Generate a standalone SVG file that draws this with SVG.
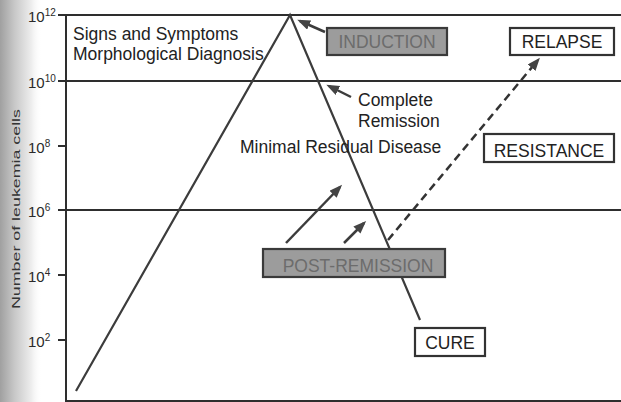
<svg xmlns="http://www.w3.org/2000/svg" width="621" height="402" viewBox="0 0 621 402">
<style>
  .t { font-family: "Liberation Sans", Arial, sans-serif; font-size: 17.5px; fill: #222; }
  .tick { font-family: "Liberation Sans", Arial, sans-serif; font-size: 15px; fill: #2a2a2a; }
  .sup { font-size: 10px; }
  .axis { stroke: #2e2e2e; stroke-width: 2; fill: none; }
  .grid { stroke: #2e2e2e; stroke-width: 2; fill: none; }
  .curve { stroke: #3c3c3c; stroke-width: 2.2; fill: none; }
  .arr { stroke: #3c3c3c; stroke-width: 2.5; fill: none; marker-end: url(#ah); }
  .dash { stroke: #333; stroke-width: 2.5; fill: none; stroke-dasharray: 8 5; marker-end: url(#ah); }
  .box { fill: #fff; stroke: #333; stroke-width: 2.2; }
  .gbox { fill: #9c9c9c; stroke: #3a3a3a; stroke-width: 2.2; }
  .gtext { fill: #6c6c6c; }
</style>
<defs>
  <marker id="ah" markerUnits="userSpaceOnUse" markerWidth="14" markerHeight="12" refX="10" refY="5" orient="auto">
    <path d="M0,0 L13,5 L0,10 z" fill="#444"/>
  </marker>
  <linearGradient id="spine" x1="0" y1="0" x2="1" y2="0">
    <stop offset="0" stop-color="#a0a0a0"/>
    <stop offset="0.35" stop-color="#c8c8c8"/>
    <stop offset="0.75" stop-color="#eeeeee"/>
    <stop offset="1" stop-color="#ffffff" stop-opacity="0"/>
  </linearGradient>
</defs>
<rect x="0" y="0" width="621" height="402" fill="#fff"/>
<rect x="0" y="0" width="42" height="402" fill="url(#spine)"/>

<g id="axes">
  <line class="axis" x1="66" y1="15" x2="66" y2="402"/>
  <line class="axis" x1="66" y1="401" x2="621" y2="401"/>
  <line class="grid" x1="58" y1="15" x2="621" y2="15"/>
  <line class="grid" x1="58" y1="81" x2="621" y2="81"/>
  <line class="grid" x1="58" y1="210" x2="621" y2="210"/>
  <line class="axis" x1="58" y1="146" x2="66" y2="146"/>
  <line class="axis" x1="58" y1="275" x2="66" y2="275"/>
  <line class="axis" x1="58" y1="340" x2="66" y2="340"/>
  <text class="tick" x="28" y="22">10<tspan class="sup" dy="-6">12</tspan></text>
  <text class="tick" x="28" y="88">10<tspan class="sup" dy="-6">10</tspan></text>
  <text class="tick" x="28" y="153">10<tspan class="sup" dy="-6">8</tspan></text>
  <text class="tick" x="28" y="217">10<tspan class="sup" dy="-6">6</tspan></text>
  <text class="tick" x="28" y="282">10<tspan class="sup" dy="-6">4</tspan></text>
  <text class="tick" x="28" y="347">10<tspan class="sup" dy="-6">2</tspan></text>
  <text transform="translate(20,209) rotate(-90)" text-anchor="middle" font-family="Liberation Sans, Arial, sans-serif" font-size="10.5" fill="#333" textLength="200" lengthAdjust="spacingAndGlyphs">Number of leukemia cells</text>
</g>

<g id="connectors">
  <polyline class="curve" points="76,391 290,15 420,320"/>
  <line class="arr" x1="325" y1="32" x2="300" y2="21"/>
  <line class="arr" x1="351" y1="97" x2="329" y2="86"/>
  <line class="arr" x1="286" y1="243" x2="340" y2="187"/>
  <line class="arr" x1="344" y1="243" x2="364" y2="223"/>
  <line class="dash" x1="388" y1="240" x2="538" y2="60"/>
</g>

<g id="label-signs">
  <text class="t" x="73" y="40">Signs and Symptoms</text>
  <text class="t" x="73" y="60">Morphological Diagnosis</text>
</g>
<g id="label-complete-remission">
  <text class="t" x="358" y="106">Complete</text>
  <text class="t" x="358" y="127">Remission</text>
</g>
<g id="label-mrd">
  <text class="t" x="240" y="153">Minimal Residual Disease</text>
</g>

<g id="induction">
  <rect class="gbox" x="327" y="28" width="120" height="27"/>
  <text class="t gtext" x="387" y="48" text-anchor="middle">INDUCTION</text>
</g>
<g id="relapse">
  <rect class="box" x="510" y="28" width="104" height="27"/>
  <text class="t" x="562" y="48" text-anchor="middle">RELAPSE</text>
</g>
<g id="resistance">
  <rect class="box" x="484" y="134" width="130" height="28"/>
  <text class="t" x="549" y="157" text-anchor="middle">RESISTANCE</text>
</g>
<g id="post-remission">
  <rect class="gbox" x="263" y="249" width="182" height="28"/>
  <text class="t gtext" x="358" y="272" text-anchor="middle">POST-REMISSION</text>
</g>
<g id="cure">
  <rect class="box" x="415" y="328" width="70" height="28"/>
  <text class="t" x="450" y="349" text-anchor="middle">CURE</text>
</g>
</svg>
